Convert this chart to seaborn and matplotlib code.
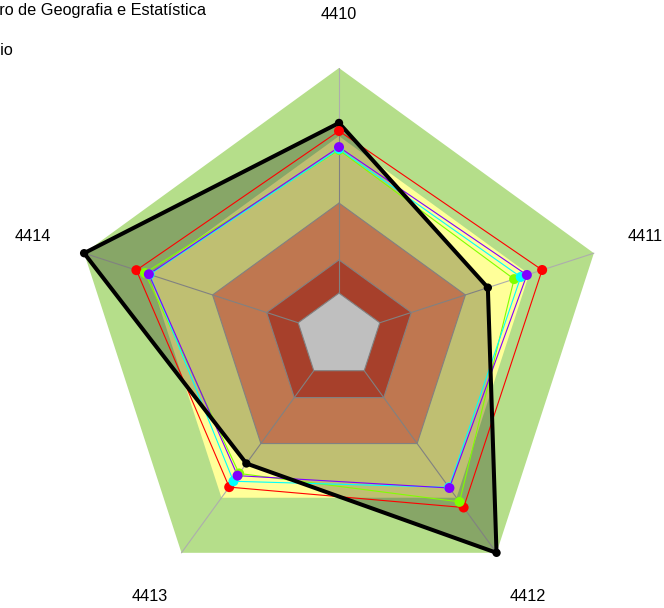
import numpy as np
import pandas as pd
import matplotlib
matplotlib.use("Agg")
import matplotlib.pyplot as plt
import seaborn as sns

# Radar axes (codes) and series values on a 0-100 scale
axis_codes = ["4410", "4411", "4412", "4413", "4414"]
vals_main = [79.5, 58.4, 100.0, 58.8, 100.0]
vals_red = [76.5, 79.7, 79.1, 69.7, 79.5]
vals_lime = [69.4, 68.7, 76.5, 63.4, 76.1]
vals_cyan = [69.8, 71.3, 69.8, 67.0, 74.3]
vals_violet = [70.5, 73.7, 70.1, 64.4, 74.6]

# Background level bands (outer limits) and their colours
band_limits = [16.0, 28.4, 49.6, 74.6, 100.0]
band_colors = ["#FFFFFF", "#E0563A", "#FFA06B", "#FFFF99", "#B5DE8A"]

header_lines = ["Instituto Brasileiro de Geografia e Estatística", "Município"]

sns.set_theme(style="white")
plt.rcParams["font.family"] = ["Liberation Sans", "DejaVu Sans"]

W, H = 664, 608
cx, cy = 339, 336          # centre of the radar, in pixels from top-left
k = 2.68                   # pixels per scale unit
fs = 11.7

fig = plt.figure(figsize=(W / 100, H / 100), dpi=100)
ax = fig.add_axes([0, 0, 1, 1])
ax.set_xlim(-cx / k, (W - cx) / k)
ax.set_ylim(-(H - cy) / k, cy / k)
ax.axis("off")

theta = np.deg2rad(np.arange(len(axis_codes)) * 360 / len(axis_codes))


def to_xy(values):
    r = np.asarray(values, dtype=float)
    x = r * np.sin(theta)
    y = r * np.cos(theta)
    return np.append(x, x[0]), np.append(y, y[0])


# level bands, outermost first
for lim, col in sorted(zip(band_limits, band_colors), reverse=True):
    bx, by = to_xy([lim] * len(axis_codes))
    ax.fill(bx, by, color=col, lw=0, zorder=1)

# spokes and inner grid rings
for t in theta:
    ax.plot([band_limits[0] * np.sin(t), 100 * np.sin(t)],
            [band_limits[0] * np.cos(t), 100 * np.cos(t)],
            color="#ADADAD", lw=0.8, zorder=2)
for lim in band_limits[:3]:
    gx, gy = to_xy([lim] * len(axis_codes))
    ax.plot(gx, gy, color="#ADADAD", lw=0.8, zorder=2)

# shaded area of the highlighted series
mx, my = to_xy(vals_main)
ax.fill(mx, my, color="black", alpha=0.25, lw=0, zorder=3)

series = [
    (vals_red, "#FF0000"),
    (vals_lime, "#80FF00"),
    (vals_cyan, "#00FFFF"),
    (vals_violet, "#8000FF"),
]

for vals, col in series:
    sx, sy = to_xy(vals)
    df = pd.DataFrame({"x": sx, "y": sy})
    sns.lineplot(data=df, x="x", y="y", sort=False, estimator=None,
                 color=col, linewidth=0.8, ax=ax, zorder=4)

df_main = pd.DataFrame({"x": mx, "y": my})
sns.lineplot(data=df_main, x="x", y="y", sort=False, estimator=None,
             color="black", linewidth=2.9, ax=ax, zorder=5)

sns.scatterplot(x=mx[:-1], y=my[:-1], color="black", s=36,
                edgecolor="none", ax=ax, zorder=6)
for vals, col in series:
    sx, sy = to_xy(vals)
    sns.scatterplot(x=sx[:-1], y=sy[:-1], color=col, s=52,
                    edgecolor="none", ax=ax, zorder=6)

ax.set_xlabel("")
ax.set_ylabel("")

# axis labels
for code, t in zip(axis_codes, theta):
    ax.text(120 * np.sin(t), 120 * np.cos(t), code, ha="center",
            va="center", fontsize=fs, color="black", zorder=7)

# header text, anchored at the right end
fig.text(206.5 / W, 1 - 15 / H, header_lines[0], ha="right", va="baseline",
         fontsize=fs, color="black")
fig.text(13.5 / W, 1 - 55 / H, header_lines[1], ha="right", va="baseline",
         fontsize=fs, color="black")

fig.savefig("out.png", dpi=100)
